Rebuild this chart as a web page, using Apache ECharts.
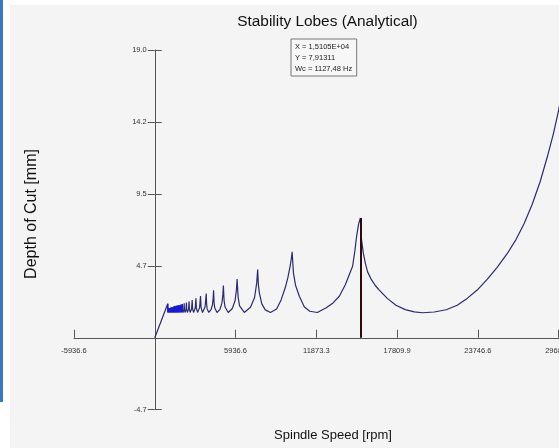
<!DOCTYPE html>
<html>
<head>
<meta charset="utf-8">
<script src="https://cdn.jsdelivr.net/npm/echarts@6/dist/echarts.min.js"></script>
<style>html,body{margin:0;padding:0;background:#fff}#c{width:559px;height:448px}</style>
</head>
<body>
<div id="c"></div>
<script>
// ---- data ----
const chartTitle = 'Stability Lobes (Analytical)';
const xAxisName = 'Spindle Speed [rpm]';
const yAxisName = 'Depth of Cut [mm]';
const xTickLabels = ['-5936.6', '', '5936.6', '11873.3', '17809.9', '23746.6', '29683.2'];
const yTickLabels = ['-4.7', '', '4.7', '9.5', '14.2', '19.0'];
const annotationLines = ['X = 1,5105E+04', 'Y = 7,91311', 'Wc = 1127,48 Hz'];
const cursorX = 15105;
const cursorY = 7.91311;
const speedRpm = [
  0, 954, 962, 976, 987, 1008, 1020, 1043, 1056, 1080, 1094, 1120, 1135, 1163, 1179, 1210, 1228,
  1260, 1279, 1315, 1336, 1375, 1398, 1440, 1466, 1513, 1541, 1592, 1623, 1681, 1715, 1779, 1818,
  1891, 1935, 2017, 2031, 2067, 2132, 2161, 2178, 2219, 2294, 2327, 2346, 2395, 2482, 2521, 2544,
  2601, 2704, 2750, 2778, 2846, 2970, 3025, 3059, 3143, 3294, 3361, 3403, 3508, 3697, 3781, 3808,
  3846, 3970, 4132, 4240, 4294, 4321, 4357, 4408, 4573, 4790, 4934, 5006, 5042, 5092, 5163, 5395,
  5697, 5899, 6000, 6050, 6126, 6231, 6579, 7033, 7335, 7486, 7562, 7613, 7689, 7866, 8119, 8498,
  8954, 9282, 9586, 9788, 9940, 10041, 10092, 10192, 10343, 10624, 10994, 11395, 11947, 12600,
  13100, 13561, 14002, 14537, 14699, 14831, 14978, 15105, 15176, 15322, 15469, 15638, 15910,
  16204, 16497, 17085, 17724, 18407, 19068, 19677, 20536, 21417, 22225, 22959, 23693, 24427,
  25161, 25895, 26556, 27144, 27731, 28318, 28832, 29273, 29662, 30000
];
const depthMm = [
  0, 2.24, 1.67, 1.92, 1.67, 1.93, 1.67, 1.94, 1.67, 1.95, 1.67, 1.96, 1.67, 1.98, 1.67, 1.99, 1.67,
  2.01, 1.67, 2.03, 1.67, 2.05, 1.67, 2.07, 1.67, 2.09, 1.67, 2.11, 1.67, 2.13, 1.67, 2.15, 1.67,
  2.18, 1.67, 2.22, 1.84, 1.67, 1.85, 2.27, 1.85, 1.67, 1.87, 2.33, 1.87, 1.67, 1.89, 2.40, 1.89,
  1.67, 1.92, 2.49, 1.92, 1.67, 1.95, 2.60, 1.95, 1.67, 1.99, 2.75, 1.99, 1.67, 2.05, 2.92, 2.23,
  1.92, 1.67, 1.85, 2.18, 2.67, 3.14, 2.33, 1.96, 1.67, 1.88, 2.29, 2.88, 3.45, 2.47, 2.03, 1.67,
  1.93, 2.44, 3.17, 3.87, 2.66, 2.11, 1.67, 2.01, 2.66, 3.59, 4.50, 3.51, 2.94, 2.24, 1.84, 1.67,
  1.90, 2.50, 3.30, 4.00, 4.70, 5.25, 5.67, 4.27, 3.47, 2.74, 2.03, 1.75, 1.67, 1.98,
  2.30, 2.74, 3.50, 4.72, 5.70, 6.70, 7.50, 7.91, 6.60, 5.60, 4.95, 4.35, 3.85,
  3.45, 3.14, 2.60, 2.15, 1.86, 1.71, 1.65, 1.70, 1.85, 2.15, 2.60, 3.15, 3.85,
  4.65, 5.55, 6.50, 7.54, 8.80, 10.30, 11.90, 13.40, 14.95, 16.60
];
const denseRangeRpm = [954, 2080];   // part of the curve that reads as solid blue
// ---------------------------------------

const xStep = 5936.64, yStep = 4.75;
const xMin = -xStep, xMax = 5 * xStep, yMin = -yStep, yMax = 4 * yStep;
const FONT = '"Liberation Sans", Arial, sans-serif';
const points = speedRpm.map((x, i) => [x, depthMm[i]]);
const densePoints = points.filter(p => p[0] >= denseRangeRpm[0] && p[0] <= denseRangeRpm[1]);

const W = 559, H = 448;
const G = {left: 74, right: 0.3, top: 50, bottom: 38.3};
const gw = W - G.left - G.right, gh = H - G.top - G.bottom;
// move the axes so they cross at (0, 0), like the reference
const yAxisOffset = -((0 - xMin) / (xMax - xMin) * gw);
const xAxisOffset = -((0 - yMin) / (yMax - yMin) * gh);

const chart = echarts.init(document.getElementById('c'), null, {renderer: 'canvas'});
const yCommon = {
  type: 'value', min: yMin, max: yMax, interval: yStep, position: 'left', offset: yAxisOffset,
  splitLine: {show: false}
};
chart.setOption({
  animation: false,
  backgroundColor: '#f4f4f4',
  title: {
    text: chartTitle, left: 327.5, top: 14, textAlign: 'center', padding: 0,
    textStyle: {fontFamily: FONT, fontSize: 15.4, fontWeight: 'normal', color: '#111'}
  },
  grid: {left: G.left, right: G.right, top: G.top, bottom: G.bottom, containLabel: false, outerBoundsMode: 'none'},
  xAxis: {
    type: 'value', min: xMin, max: xMax, interval: xStep, position: 'bottom', offset: xAxisOffset,
    axisLine: {onZero: false, lineStyle: {color: '#555', width: 1}},
    axisTick: {inside: true, length: 8, lineStyle: {color: '#555'}},
    axisLabel: {
      margin: 9, fontSize: 7.5, fontFamily: FONT, color: '#333',
      formatter: v => xTickLabels[Math.round(v / xStep) + 1] || ''
    },
    splitLine: {show: false}
  },
  yAxis: [
    Object.assign({}, yCommon, {
      axisLine: {onZero: false, lineStyle: {color: '#555', width: 1}},
      axisTick: {inside: false, length: 7, lineStyle: {color: '#555'}},
      axisLabel: {
        margin: 8, fontSize: 7.5, fontFamily: FONT, color: '#333',
        formatter: v => yTickLabels[Math.round(v / yStep) + 1] || ''
      }
    }),
    Object.assign({}, yCommon, {
      axisLine: {show: false, onZero: false},
      axisTick: {inside: true, length: 7, lineStyle: {color: '#555'}},
      axisLabel: {show: false}
    })
  ],
  series: [{
    type: 'line', data: points, showSymbol: false, symbol: 'none', smooth: false,
    lineStyle: {width: 1.2, color: '#2a2a72'}, clip: true,
    markLine: {
      silent: true, symbol: ['none', 'none'], label: {show: false},
      lineStyle: {color: '#2a0a0a', width: 2, type: 'solid'},
      data: [[{coord: [cursorX, 0]}, {coord: [cursorX, cursorY]}]]
    }
  }, {
    type: 'line', data: densePoints, showSymbol: false, symbol: 'none', smooth: false,
    lineStyle: {width: 1.2, color: '#1818d8'}, clip: true
  }],
  graphic: [
    {type: 'rect', silent: true, shape: {x: 0, y: 0, width: 559, height: 5}, style: {fill: '#ffffff'}},
    {type: 'rect', silent: true, shape: {x: 0, y: 0, width: 10, height: 448}, style: {fill: '#ffffff'}},
    {type: 'rect', silent: true, shape: {x: 0, y: 0, width: 3, height: 402}, style: {fill: '#3b78c4'}},
    {type: 'rect', silent: true, shape: {x: 291, y: 39, width: 65.7, height: 37},
      style: {fill: '#f7f7f7', stroke: '#777', lineWidth: 1}},
    ...annotationLines.map((t, i) => ({
      type: 'text', silent: true,
      style: {x: 295, y: 47 + i * 11, text: t, fill: '#222', font: '7.5px ' + FONT,
        textAlign: 'left', textVerticalAlign: 'middle'}
    })),
    {type: 'text', silent: true,
      style: {x: 333, y: 435, text: xAxisName, fill: '#111', font: '13px ' + FONT,
        textAlign: 'center', textVerticalAlign: 'middle'}},
    {type: 'text', silent: true, x: 32, y: 214, rotation: Math.PI / 2,
      style: {x: 0, y: 0, text: yAxisName, fill: '#111', font: '16px ' + FONT,
        textAlign: 'center', textVerticalAlign: 'middle'}}
  ]
});
</script>
</body>
</html>
